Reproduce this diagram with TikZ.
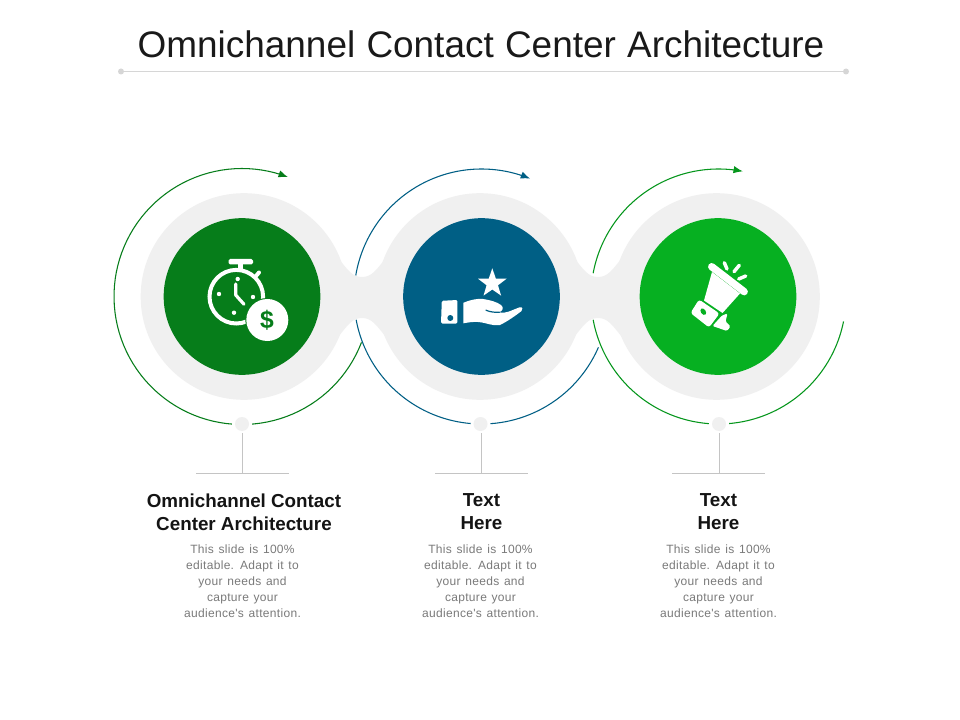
\documentclass[tikz,border=0pt]{standalone}
\usepackage{fontspec}
\usetikzlibrary{arrows.meta}
\setmainfont{Liberation Sans}
\newfontfamily\titlefont[WordSpace=1.1]{Liberation Sans}
\newfontfamily\headfont[WordSpace=0.6]{Liberation Sans Bold}
\newfontfamily\dollarfont{Liberation Sans Bold}
\newfontfamily\bodyfont[LetterSpace=2.6,WordSpace=1.3]{Liberation Sans}
\definecolor{cA}{HTML}{067D1A}
\definecolor{cB}{HTML}{005F85}
\definecolor{cC}{HTML}{06B021}
\definecolor{halo}{HTML}{F0F0F0}
\definecolor{rule}{HTML}{C4C4C4}
\definecolor{bodyc}{HTML}{7A7A7A}
\tikzset{
  disc/.style={circle,inner sep=0pt,minimum size=#1},
  ttl/.style={font=\titlefont\fontsize{27.7}{32}\selectfont,text=black!90,inner sep=0pt},
  headtxt/.style={font=\headfont\fontsize{14.1}{17.4}\selectfont,align=center,inner sep=0pt,text=black!92},
  bodytxt/.style={font=\bodyfont\fontsize{9}{12}\selectfont,align=center,inner sep=0pt,text=bodyc},
  ringline/.style={line width=0.8pt},
  rulel/.style={draw=rule,line width=0.6pt},
  tipk/.style={-{Latex[length=7pt,width=5.5pt]}},
  knob/.style={disc=10.5pt,fill=halo},
  knobgap/.style={disc=15pt,fill=white},
}
\newcommand{\ringarc}[5]{%
  \draw[ringline,#5,domain=#3:#4,samples=90,variable=\t] plot ({#1+#2*cos(\t)},{296.5-#2*sin(\t)});
}
\newcommand{\neck}[1]{%
  \fill[halo] (#1-24,258) .. controls (#1-14,270) and (#1-10,277) .. (#1,277)
    .. controls (#1+10,277) and (#1+14,270) .. (#1+24,258)
    -- (#1+24,337) .. controls (#1+14,325) and (#1+10,318) .. (#1,318)
    .. controls (#1-10,318) and (#1-14,325) .. (#1-24,337) -- cycle;
}
\begin{document}
\begin{tikzpicture}[x=0.75pt,y=-0.75pt]
\useasboundingbox (0,0) rectangle (960,720);
\fill[white] (0,0) rectangle (960,720);

% title
\node[ttl] (title) at (481,44) {Omnichannel Contact Center Architecture};
\node[disc=4.5pt,fill=rule!70] (tl) at (121,71.5) {};
\node[disc=4.5pt,fill=rule!70] (tr) at (846,71.5) {};
\draw[draw=rule!70,line width=0.6pt] (tl) -- (tr);

% halos
\neck{362}
\neck{598}
\node[disc=155pt,fill=halo] (h1) at (244,296.5) {};
\node[disc=155pt,fill=halo] (h2) at (480,296.5) {};
\node[disc=155pt,fill=halo] (h3) at (716.5,296.5) {};

% rings
\ringarc{242}{128}{339}{69}{cA,tipk}
\ringarc{481.5}{127.5}{170.5}{67.6}{cB,tipk}
\ringarc{481.5}{127.5}{336.5}{190.5}{cB}
\ringarc{718.5}{127.5}{169.5}{79}{cC!85!black,tipk}
\ringarc{718.5}{127.5}{348.7}{190.5}{cC!85!black}

% main discs
\node[disc=117.5pt,fill=cA] (m1) at (242,296.5) {};
\node[disc=117.5pt,fill=cB] (m2) at (481.5,296.5) {};
\node[disc=117.5pt,fill=cC] (m3) at (718,296.5) {};

% stems
\node[knobgap] at (242,424) {};
\node[knobgap] at (480.5,424) {};
\node[knobgap] at (719,424) {};
\node[knob] (k1) at (242,424) {};
\node[knob] (k2) at (480.5,424) {};
\node[knob] (k3) at (719,424) {};
\coordinate (b1) at (242.5,473);
\coordinate (b2) at (481.5,473);
\coordinate (b3) at (719,473);
\draw[rulel] (242.5,433) -- (b1);
\draw[rulel] (481.5,433) -- (b2);
\draw[rulel] (719,433) -- (b3);
\draw[rulel] (196,473) -- (289,473);
\draw[rulel] (435,473) -- (528,473);
\draw[rulel] (672,473) -- (765,473);

% clock icon
\draw[white,line width=3pt] (236.3,296.7) circle (26.8);
\fill[white,rounded corners=1.2pt] (228.5,259) rectangle (253,264.5);
\fill[white] (238,264) rectangle (242.5,270);
\draw[white,line width=3pt,line cap=round] (256,276) -- (259,272.5);
\fill[white] (219,294) circle (2.2) (253,297) circle (2.2) (237.7,279) circle (2.2) (234,312.7) circle (2.2);
\draw[white,line width=2.4pt,line cap=round,line join=round] (235.7,284) -- (235.7,295) -- (244,304.3);
\node[disc=33pt,fill=cA] (c0) at (267.3,320) {};
\node[disc=31.5pt,fill=white] (coin) at (267.3,320) {};
\node[font=\dollarfont\fontsize{18.5}{20}\selectfont,text=cA,inner sep=0pt] (dollar) at (267,320) {\$};

% hand icon
\fill[white] (492.3,268.3) -- (495.8,278.5) -- (506.6,278.7) -- (498,285.3) -- (501.1,295.6) -- (492.3,289.5) -- (483.5,295.6) -- (486.6,285.3) -- (478,278.7) -- (488.8,278.5) -- cycle;
\fill[white,rounded corners=1pt] (441.8,300.8) -- (457.4,300) -- (457.4,323.5) -- (441,323.5) -- cycle;
\fill[cB] (450.3,318) circle (3);
\fill[white] (463.3,302.8) .. controls (470,300) and (477,298.3) .. (483,299)
  .. controls (490,300) and (497,302) .. (501,305)
  .. controls (504,307.5) and (503,311) .. (499,312.3)
  .. controls (503,313) and (506,312.8) .. (509,311.5)
  -- (519.5,307.3) .. controls (522.5,306.5) and (523.5,309.5) .. (521.5,311)
  .. controls (515,316) and (508,321) .. (500,325)
  .. controls (493,326.5) and (486,322.5) .. (478,322)
  .. controls (472,321.7) and (468,322.5) .. (463.3,323.3) -- cycle;
\draw[cB,line width=0.9pt,line cap=round] (486,310.2) .. controls (490,312) and (495,312.6) .. (499.5,312.2);

% megaphone icon
\fill[white] (712,272) -- (740,293.5) -- (722.5,313) -- (704,300.5) -- cycle;
\draw[white,line width=5.5pt,line cap=round] (711.7,266.7) -- (744.2,291.7);
\fill[white,rounded corners=2pt] (699,299.5) -- (719.5,313.5) -- (709,327.5) -- (690.5,313) -- cycle;
\fill[white,rounded corners=1pt] (722,315.5) -- (727.5,313.5) -- (725.5,321.5) -- (730.5,326.5) -- (727,331) -- (712.5,326) -- cycle;
\fill[cC,rotate around={-55:(703.3,311.7)}] (703.3,311.7) ellipse (3.6 and 2.4);
\draw[white,line width=2.6pt,line cap=round] (724.3,262.7) -- (727,269) (739.3,265.3) -- (734,271.7) (745.7,276) -- (738.7,279);

% texts
\node[headtxt] (h1t) at (244,512) {Omnichannel Contact\\Center Architecture};
\node[headtxt] (h2t) at (481.5,512) {Text\\Here};
\node[headtxt] (h3t) at (718.5,512) {Text\\Here};
\node[bodytxt] (b1t) at (242.5,581) {This slide is 100\%\\editable. Adapt it to\\your needs and\\capture your\\audience's attention.};
\node[bodytxt] (b2t) at (480.5,581) {This slide is 100\%\\editable. Adapt it to\\your needs and\\capture your\\audience's attention.};
\node[bodytxt] (b3t) at (718.5,581) {This slide is 100\%\\editable. Adapt it to\\your needs and\\capture your\\audience's attention.};
\end{tikzpicture}
\end{document}
